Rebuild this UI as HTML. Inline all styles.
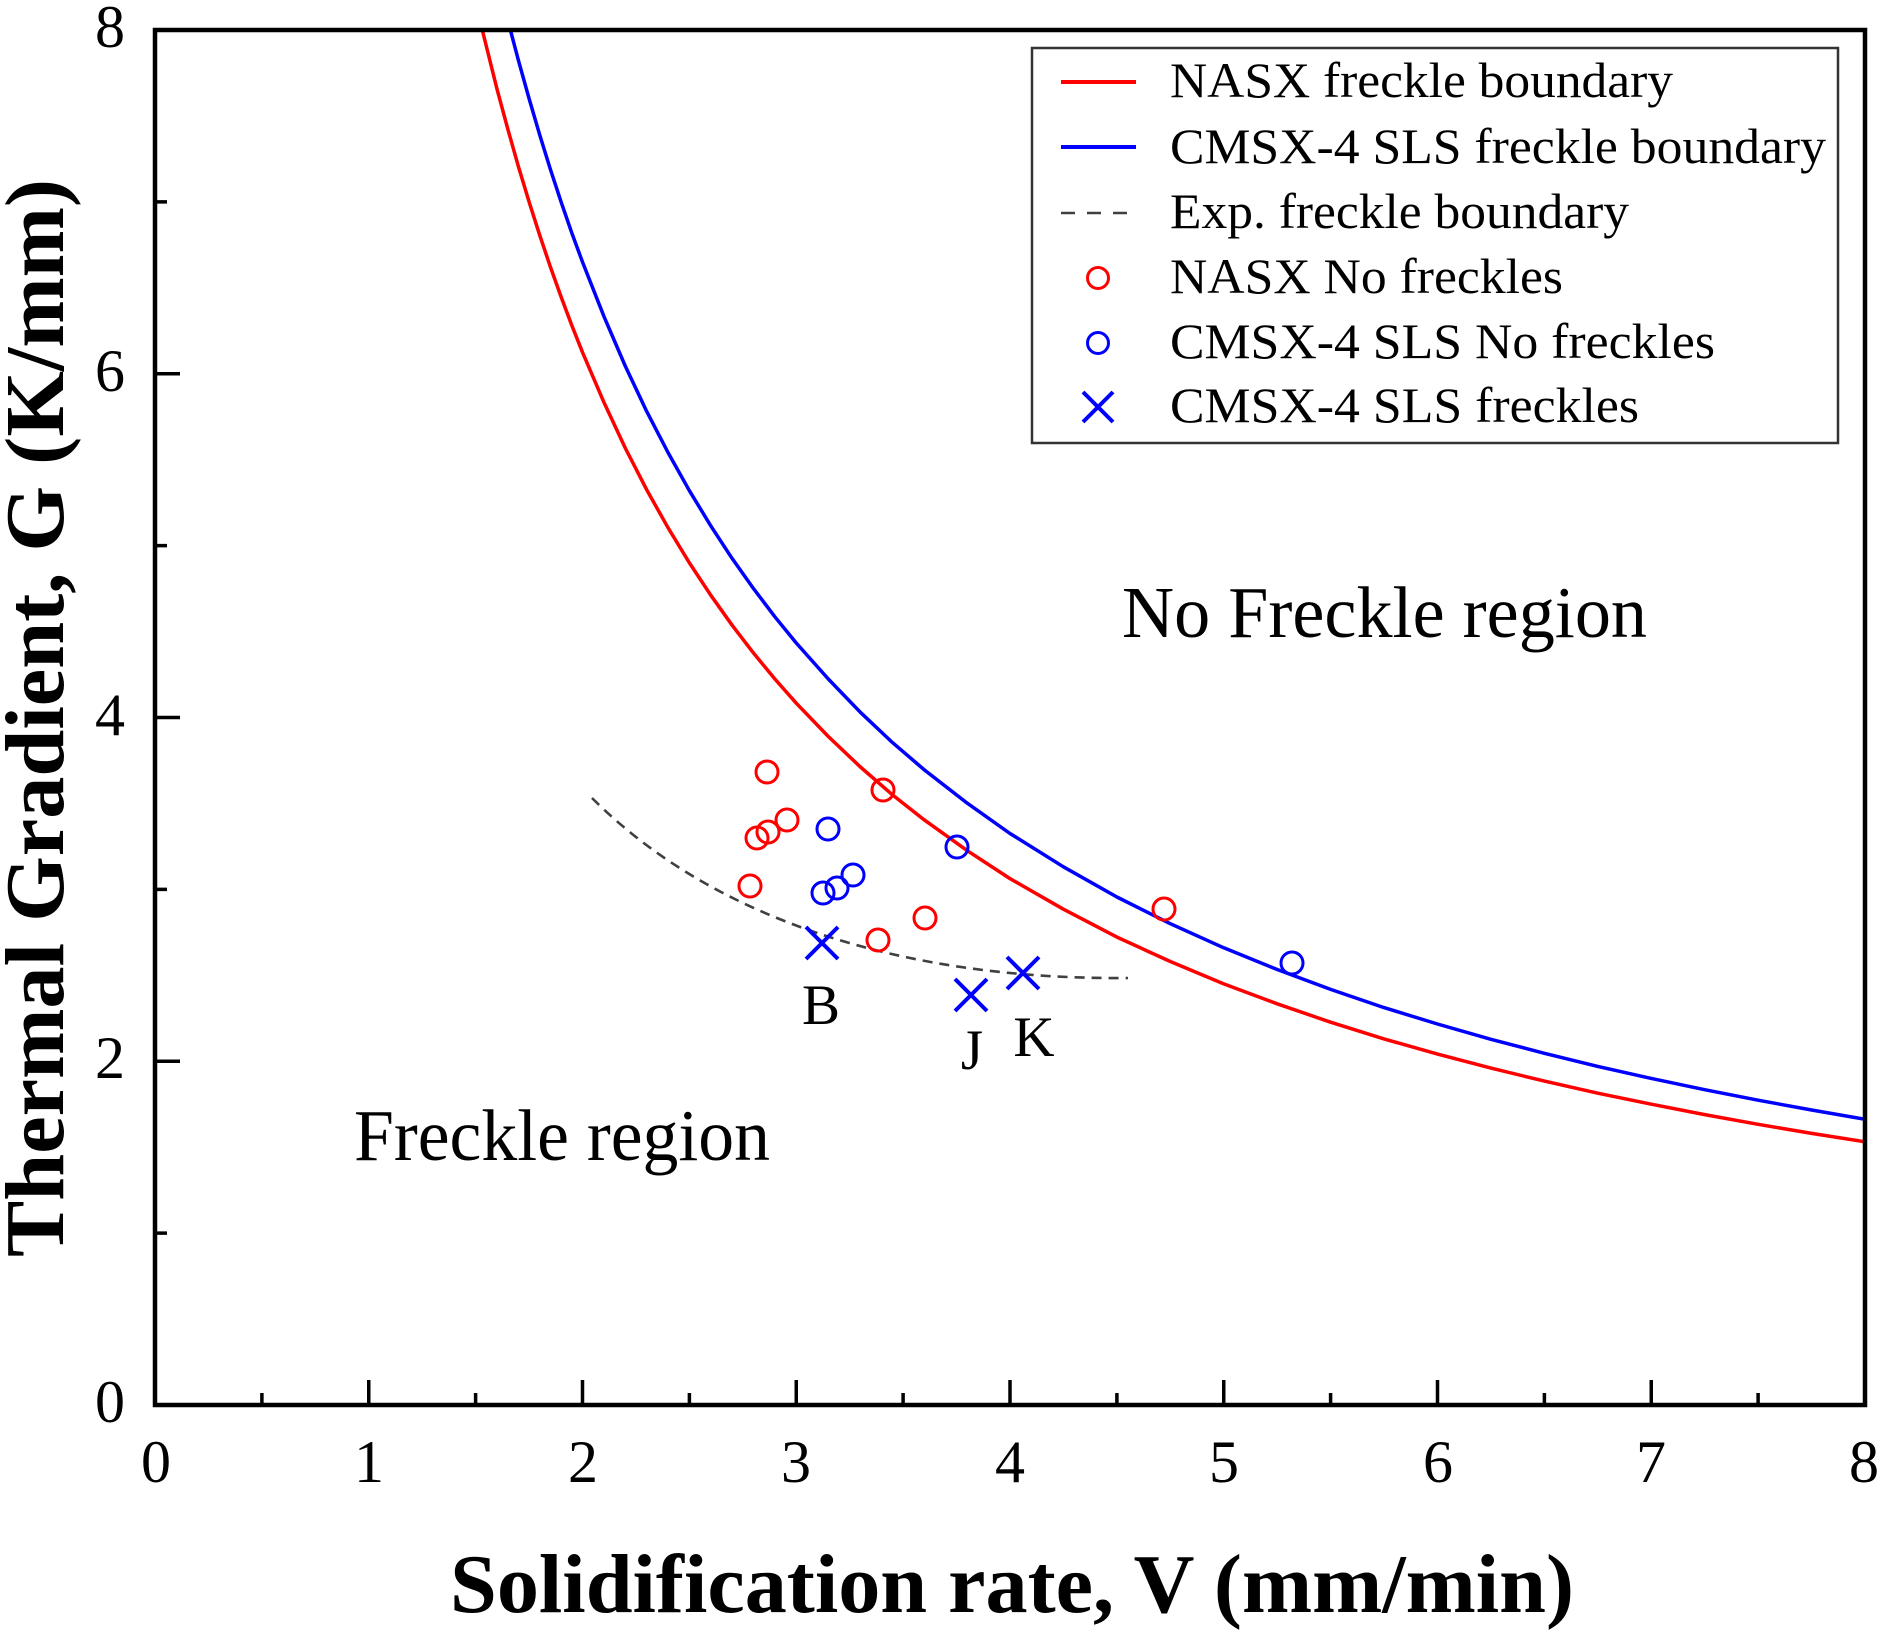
<!DOCTYPE html>
<html><head><meta charset="utf-8"><style>
html,body{margin:0;padding:0;background:#fff;}
svg{display:block;}
text{font-family:"Liberation Serif","Times New Roman",serif;fill:#000;}
</style></head><body>
<svg width="1888" height="1632" viewBox="0 0 1888 1632" xmlns="http://www.w3.org/2000/svg">
<rect x="0" y="0" width="1888" height="1632" fill="#fff"/>
<defs><clipPath id="pc"><rect x="155" y="30" width="1710" height="1375"/></clipPath></defs>

<g clip-path="url(#pc)" fill="none" stroke-linejoin="round" stroke-linecap="round">
<!-- red boundary G=12.25/V -->
<polyline stroke="#ff0000" stroke-width="3.5" points="482.3,30 497,89.1 507.7,128.7 518.4,166.5 529.1,201.9 539.75,235.3 550.4,266.9 561.1,296.9 571.8,325.4 582.5,352.3 603.9,402.3 625.25,448 646.6,489.6 668,527.7 689.4,562.9 710.75,595.2 732.1,625.2 753.5,653.05 774.9,679 796.25,703.2 828.3,736.5 860.4,767 892.5,794.9 924.5,820.1 967.3,850.7 1010,878.6 1063.4,909.2 1116.9,937.1 1170.3,961.5 1223.75,983.9 1277.2,1003.8 1330.6,1022.2 1384,1038.9 1437.5,1054.1 1490.9,1068.1 1544.4,1081.1 1597.8,1093.2 1651.25,1104.2 1704.7,1114.6 1758.1,1124.3 1811.6,1133.4 1865,1141.8"/>
<!-- blue boundary G=13.3/V -->
<polyline stroke="#0000ff" stroke-width="3.5" points="510.4,30 518.4,60.3 529.1,98.6 539.75,135 550.4,169.4 561.1,201.9 571.8,232.9 582.5,262 603.9,316.3 625.25,366 646.6,411.2 668,452.5 689.4,490.7 710.75,525.8 732.1,558.4 753.5,588.6 774.9,616.8 796.25,643 828.3,679 860.4,712.3 892.5,742.6 924.5,770 967.3,803.2 1010,833.5 1063.4,866.8 1116.9,897 1170.3,923.7 1223.75,947.8 1277.2,969.5 1330.6,989.4 1384,1007.6 1437.5,1024 1490.9,1039.3 1544.4,1053.3 1597.8,1066.4 1651.25,1078.4 1704.7,1089.7 1758.1,1100.2 1811.6,1110 1865,1119.3"/>
<!-- experimental dashed boundary -->
<path d="M592,798 C712,918 900,980 1128,978" stroke="#404040" stroke-width="2.6" stroke-dasharray="10 7" stroke-linecap="butt"/>
</g>

<!-- data: NASX no freckles (red circles) -->
<g fill="none" stroke="#ff0000" stroke-width="3">
<circle cx="767" cy="772" r="11"/>
<circle cx="787" cy="820" r="11"/>
<circle cx="768" cy="832" r="11"/>
<circle cx="757" cy="838" r="11"/>
<circle cx="750" cy="886" r="11"/>
<circle cx="883" cy="790" r="11"/>
<circle cx="925" cy="918" r="11"/>
<circle cx="878" cy="940" r="11"/>
<circle cx="1164" cy="909" r="11"/>
</g>
<!-- CMSX-4 SLS no freckles (blue circles) -->
<g fill="none" stroke="#0000ff" stroke-width="3">
<circle cx="828" cy="829" r="11"/>
<circle cx="853" cy="875" r="11"/>
<circle cx="837" cy="888" r="11"/>
<circle cx="823" cy="893" r="11"/>
<circle cx="957" cy="847" r="11"/>
<circle cx="1292" cy="963" r="11"/>
</g>
<!-- CMSX-4 SLS freckles (blue crosses) -->
<g stroke="#0000ff" stroke-width="4" stroke-linecap="butt">
<path d="M806,927 L838,959 M838,927 L806,959"/>
<path d="M955,979 L987,1011 M987,979 L955,1011"/>
<path d="M1007,957 L1039,989 M1039,957 L1007,989"/>
</g>

<!-- point labels -->
<text x="821" y="1024" font-size="57" text-anchor="middle">B</text>
<text x="972" y="1069" font-size="57" text-anchor="middle">J</text>
<text x="1034" y="1056" font-size="57" text-anchor="middle">K</text>

<!-- region labels -->
<text x="1122" y="637" font-size="73" textLength="525" lengthAdjust="spacingAndGlyphs">No Freckle region</text>
<text x="354" y="1160" font-size="73" textLength="416" lengthAdjust="spacingAndGlyphs">Freckle region</text>

<!-- axes frame -->
<rect x="155" y="30" width="1710" height="1375" fill="none" stroke="#000" stroke-width="4.5"/>

<!-- x ticks -->
<g stroke="#000" stroke-width="3.5">
<path d="M368.75,1405 V1380 M582.5,1405 V1380 M796.25,1405 V1380 M1010,1405 V1380 M1223.75,1405 V1380 M1437.5,1405 V1380 M1651.25,1405 V1380"/>
<path d="M261.9,1405 V1393 M475.6,1405 V1393 M689.4,1405 V1393 M903.1,1405 V1393 M1116.9,1405 V1393 M1330.6,1405 V1393 M1544.4,1405 V1393 M1758.1,1405 V1393"/>
<!-- y ticks -->
<path d="M155,1061.25 H180 M155,717.5 H180 M155,373.75 H180"/>
<path d="M155,1233.1 H167 M155,889.4 H167 M155,545.6 H167 M155,201.9 H167"/>
</g>

<!-- x tick labels -->
<g font-size="60" text-anchor="middle">
<text x="156" y="1482">0</text>
<text x="369" y="1482">1</text>
<text x="583" y="1482">2</text>
<text x="796" y="1482">3</text>
<text x="1010" y="1482">4</text>
<text x="1224" y="1482">5</text>
<text x="1438" y="1482">6</text>
<text x="1651" y="1482">7</text>
<text x="1864" y="1482">8</text>
</g>
<!-- y tick labels -->
<g font-size="60" text-anchor="end">
<text x="125" y="1422">0</text>
<text x="125" y="1078">2</text>
<text x="125" y="735">4</text>
<text x="125" y="391">6</text>
<text x="125" y="47">8</text>
</g>

<!-- axis titles -->
<text x="450" y="1612" font-size="84" font-weight="bold" textLength="1124" lengthAdjust="spacingAndGlyphs">Solidification rate, V (mm/min)</text>
<text x="63" y="718" font-size="84" font-weight="bold" text-anchor="middle" textLength="1078" lengthAdjust="spacingAndGlyphs" transform="rotate(-90 63 718)">Thermal Gradient, G (K/mm)</text>

<!-- legend -->
<rect x="1032" y="48" width="806" height="395" fill="#fff" stroke="#333" stroke-width="2.5"/>
<line x1="1061" y1="82" x2="1136" y2="82" stroke="#ff0000" stroke-width="4"/>
<line x1="1061" y1="147" x2="1136" y2="147" stroke="#0000ff" stroke-width="4"/>
<line x1="1061" y1="213" x2="1136" y2="213" stroke="#404040" stroke-width="2.6" stroke-dasharray="14 12"/>
<circle cx="1098" cy="278" r="10.5" fill="none" stroke="#ff0000" stroke-width="3"/>
<circle cx="1098" cy="343" r="10.5" fill="none" stroke="#0000ff" stroke-width="3"/>
<path d="M1083,392 L1113,422 M1113,392 L1083,422" stroke="#0000ff" stroke-width="4"/>
<g font-size="50">
<text x="1170" y="97" textLength="503" lengthAdjust="spacingAndGlyphs">NASX freckle boundary</text>
<text x="1170" y="163" textLength="656" lengthAdjust="spacingAndGlyphs">CMSX-4 SLS freckle boundary</text>
<text x="1170" y="228" textLength="459" lengthAdjust="spacingAndGlyphs">Exp. freckle boundary</text>
<text x="1170" y="293" textLength="393" lengthAdjust="spacingAndGlyphs">NASX No freckles</text>
<text x="1170" y="358" textLength="545" lengthAdjust="spacingAndGlyphs">CMSX-4 SLS No freckles</text>
<text x="1170" y="422" textLength="469" lengthAdjust="spacingAndGlyphs">CMSX-4 SLS freckles</text>
</g>
</svg>
</body></html>
